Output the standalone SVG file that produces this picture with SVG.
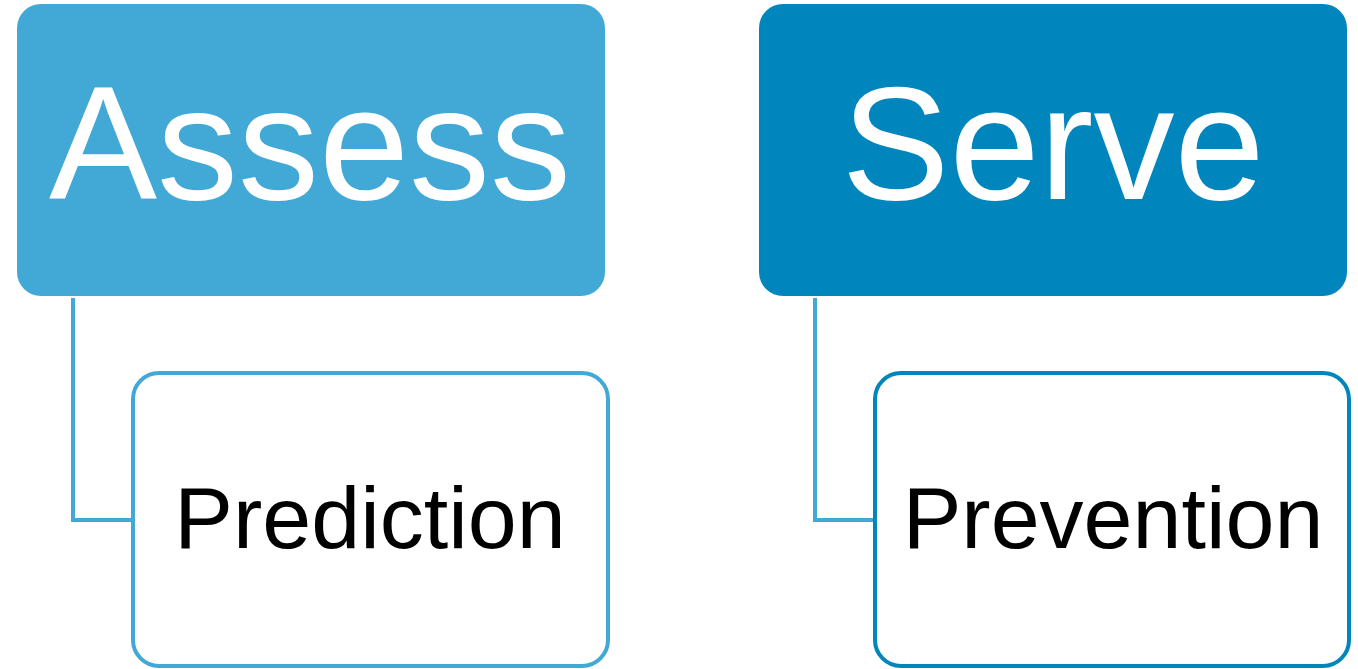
<svg xmlns="http://www.w3.org/2000/svg" width="1358" height="669" viewBox="0 0 1358 669">
<style>
.big{font-family:"Liberation Sans",Arial,sans-serif;font-size:162px;fill:#ffffff;text-anchor:middle}
.small{font-family:"Liberation Sans",Arial,sans-serif;font-size:88px;fill:#000000;text-anchor:middle}
.conn{fill:none;stroke:#42A9D6;stroke-width:4}
.child{fill:#ffffff;stroke-width:4}
</style>
<rect width="1358" height="669" fill="#ffffff"/>
<g id="connectors">
<path class="conn" d="M73 298 V520 H133"/>
<path class="conn" d="M815 298 V520 H875"/>
</g>
<g id="assess">
<rect x="17" y="4" width="588" height="292" rx="24" fill="#42A9D6"/>
<text class="big" x="310" y="199">Assess</text>
</g>
<g id="prediction">
<rect class="child" x="133" y="373" width="475" height="293" rx="26" stroke="#42A9D6"/>
<text class="small" x="370" y="548">Prediction</text>
</g>
<g id="serve">
<rect x="759" y="4" width="588" height="292" rx="24" fill="#0085BC"/>
<text class="big" x="1053" y="199">Serve</text>
</g>
<g id="prevention">
<rect class="child" x="875" y="373" width="474" height="293" rx="26" stroke="#0085BC"/>
<text class="small" x="1113" y="548">Prevention</text>
</g>
</svg>
